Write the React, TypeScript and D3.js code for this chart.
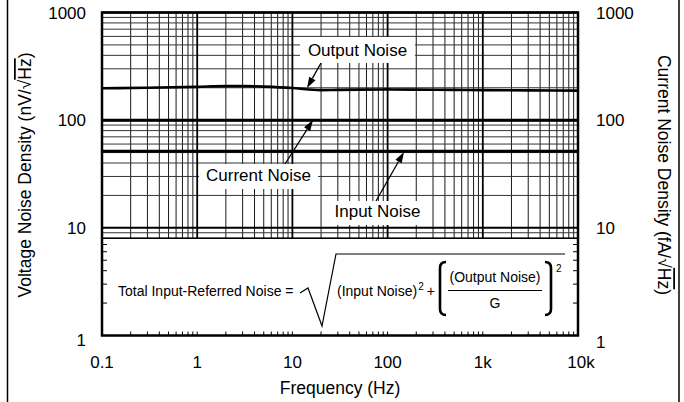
import React from 'react';
import * as d3 from 'd3';

// frequency samples (Hz) and noise densities
const freqs = [0.1, 0.3, 1, 2, 3, 5, 10, 15, 20, 30, 50, 100, 200, 500, 1000, 3000, 10000];
const outputNoise = [198, 200, 204, 207, 207, 205, 199, 193, 190, 191, 192, 193, 192, 191, 190, 189, 188];
const currentNoise = [100, 100, 100, 100, 100, 100, 100, 100, 100, 100, 100, 100, 100, 100, 100, 100, 100];
const inputNoise = [51.5, 51.5, 51.5, 51.5, 51.5, 51.5, 51.5, 51.5, 51.5, 51.5, 51.5, 51.5, 51.5, 51.5, 51.5, 51.5, 51.5];

const xTicks = [0.1, 1, 10, 100, 1000, 10000];
const xTickLabels = ['0.1', '1', '10', '100', '1k', '10k'];
const yTicks = [1, 10, 100, 1000];
const yTickLabels = ['1', '10', '100', '1000'];
const gridFloor = 8; // grid stops here; formula box below

const FONT = 'Liberation Sans, Arial, Helvetica, sans-serif';

const x = d3.scaleLog().domain([0.1, 10000]).range([102, 578]);
const y = d3.scaleLog().domain([1, 1000]).range([335.5, 12.5]);

const minorX: number[] = [];
for (let dec = 0.1; dec < 10000; dec *= 10) {
  for (let m = 2; m <= 9; m++) minorX.push(+(dec * m).toPrecision(3));
}
const minorY: number[] = [];
for (let dec = 1; dec < 1000; dec *= 10) {
  for (let m = 2; m <= 9; m++) minorY.push(dec * m);
}

const line = d3
  .line<number>()
  .curve(d3.curveMonotoneX)
  .x((_, i) => x(freqs[i]))
  .y((d) => y(d));

function Arrow({ x1, y1, x2, y2 }: { x1: number; y1: number; x2: number; y2: number }) {
  const a = Math.atan2(y2 - y1, x2 - x1);
  const len = 11;
  const w = 3.6;
  const bx = x2 - len * Math.cos(a);
  const by = y2 - len * Math.sin(a);
  const px = -Math.sin(a) * w;
  const py = Math.cos(a) * w;
  return (
    <g>
      <line x1={x1} y1={y1} x2={bx} y2={by} stroke="#000" strokeWidth={1.3} />
      <polygon points={`${x2},${y2} ${bx + px},${by + py} ${bx - px},${by - py}`} fill="#000" />
    </g>
  );
}

export default function App() {
  const boxTop = y(gridFloor);
  const [x0, x1] = x.range();
  const [yb, yt] = y.range();
  return (
    <svg width={684} height={402} style={{ position: 'absolute', left: 0, top: 0, background: '#fff' }} fontFamily={FONT}>
      <rect width={684} height={402} fill="#fff" />
      {/* page frame */}
      <line x1={7.5} y1={0} x2={7.5} y2={402} stroke="#000" strokeWidth={1.5} />
      <line x1={679} y1={0} x2={679} y2={402} stroke="#000" strokeWidth={1.5} />

      {/* minor grid */}
      {minorX.map((v) => (
        <line key={'mx' + v} x1={x(v)} x2={x(v)} y1={yt} y2={boxTop} stroke="#1a1a1a" strokeWidth={1} />
      ))}
      {minorY.filter((v) => v >= gridFloor).map((v) => (
        <line key={'my' + v} x1={x0} x2={x1} y1={y(v)} y2={y(v)} stroke="#333" strokeWidth={1} />
      ))}
      {/* major grid */}
      {xTicks.map((v) => (
        <line key={'Mx' + v} x1={x(v)} x2={x(v)} y1={yt} y2={boxTop} stroke="#000" strokeWidth={1.8} />
      ))}
      {yTicks.filter((v) => v >= gridFloor).map((v) => (
        <line key={'My' + v} x1={x0} x2={x1} y1={y(v)} y2={y(v)} stroke="#000" strokeWidth={2} />
      ))}

      {/* formula box region ticks */}
      <line x1={x0} x2={x1} y1={boxTop} y2={boxTop} stroke="#000" strokeWidth={1.3} />
      {minorY.filter((v) => v < gridFloor).map((v) => (
        <g key={'ty' + v}>
          <line x1={x0} x2={x0 + 5} y1={y(v)} y2={y(v)} stroke="#000" strokeWidth={1} />
          <line x1={x1} x2={x1 - 5} y1={y(v)} y2={y(v)} stroke="#000" strokeWidth={1} />
        </g>
      ))}
      {minorX.concat(xTicks).map((v) => (
        <line key={'tx' + v} x1={x(v)} x2={x(v)} y1={yb} y2={yb - 4} stroke="#000" strokeWidth={1} />
      ))}

      {/* curves */}
      <path d={line(outputNoise) || ''} fill="none" stroke="#000" strokeWidth={2.6} />
      <path d={line(currentNoise) || ''} fill="none" stroke="#000" strokeWidth={3} />
      <path d={line(inputNoise) || ''} fill="none" stroke="#000" strokeWidth={3} />

      {/* plot border */}
      <rect x={x0} y={yt} width={x1 - x0} height={yb - yt} fill="none" stroke="#000" strokeWidth={2.5} />

      {/* labels with white boxes */}
      <rect x={300} y={37} width={115} height={26} fill="#fff" />
      <text x={357.5} y={56} fontSize={17} textAnchor="middle">Output Noise</text>
      <Arrow x1={321} y1={63} x2={307} y2={88} />

      <rect x={199} y={164} width={119} height={25} fill="#fff" />
      <text x={258.5} y={181} fontSize={17} textAnchor="middle">Current Noise</text>
      <Arrow x1={285} y1={164} x2={313} y2={120} />

      <rect x={323} y={201} width={109} height={24} fill="#fff" />
      <text x={377.5} y={217} fontSize={17} textAnchor="middle">Input Noise</text>
      <Arrow x1={376} y1={201} x2={404} y2={152} />

      {/* formula */}
      <g fontSize={14}>
        <text x={118} y={295.5}>Total Input-Referred Noise =</text>
        <path d="M300,293 L308,288 L322,326 L336,254 L565,254" fill="none" stroke="#000" strokeWidth={1.2} />
        <text x={337} y={295.5}>
          (Input Noise)
          <tspan dx={1} dy={-6} fontSize={10}>2</tspan>
          <tspan dx={3} dy={6}>+</tspan>
        </text>
        <path d="M446,262 Q440,262 440,268 L440,309 Q440,315 446,315" fill="none" stroke="#000" strokeWidth={2.6} />
        <text x={495} y={282} textAnchor="middle">(Output Noise)</text>
        <line x1={448} x2={542} y1={290.5} y2={290.5} stroke="#000" strokeWidth={1.2} />
        <text x={495} y={308} textAnchor="middle">G</text>
        <path d="M545,262 Q551,262 551,268 L551,309 Q551,315 545,315" fill="none" stroke="#000" strokeWidth={2.6} />
        <text x={556} y={272} fontSize={10}>2</text>
      </g>

      {/* left y axis labels */}
      {yTicks.map((v, i) => (
        <text key={'yl' + v} x={86} y={y(v) + 6 + (v === 1 ? 4 : 0)} fontSize={17} textAnchor="end">
          {yTickLabels[i]}
        </text>
      ))}
      {/* right y axis labels */}
      {yTicks.map((v, i) => (
        <text key={'yr' + v} x={596} y={y(v) + 6 + (v === 1 ? 6 : 0)} fontSize={17}>
          {yTickLabels[i]}
        </text>
      ))}
      {/* x axis labels */}
      {xTicks.map((v, i) => (
        <text key={'xl' + v} x={x(v) + (i === xTicks.length - 1 ? 3 : 0)} y={368} fontSize={17} textAnchor="middle">
          {xTickLabels[i]}
        </text>
      ))}

      <text x={340} y={394} fontSize={17.5} textAnchor="middle">Frequency (Hz)</text>
      <text transform="translate(31,175) rotate(-90)" fontSize={17.5} textAnchor="middle">
        Voltage Noise Density (nV/√<tspan style={{ textDecoration: 'overline' }}>Hz</tspan>)
      </text>
      <text transform="translate(658,175) rotate(90)" fontSize={17.5} textAnchor="middle">
        Current Noise Density (fA/√<tspan style={{ textDecoration: 'overline' }}>Hz</tspan>)
      </text>
    </svg>
  );
}
